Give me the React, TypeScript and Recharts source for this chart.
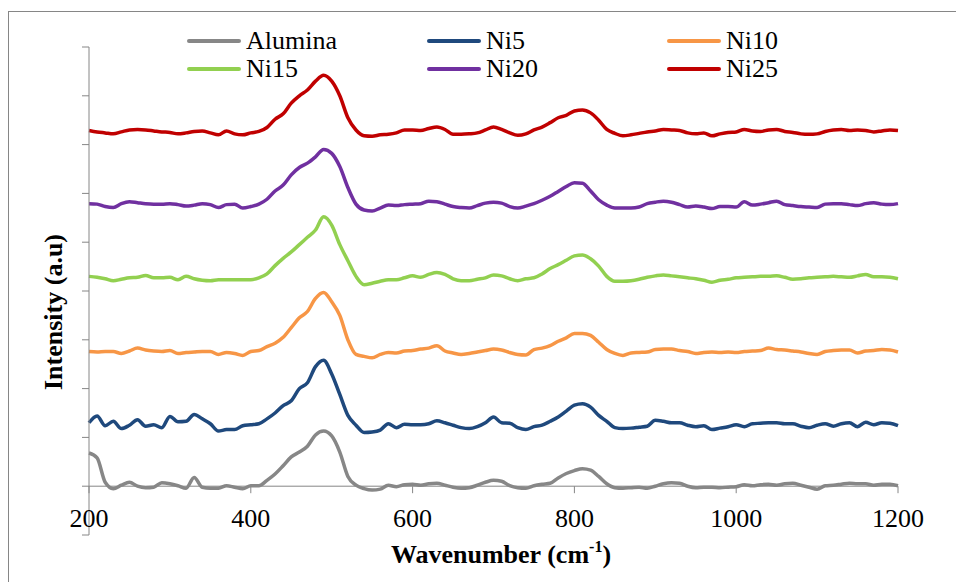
import { LineChart, Line, XAxis, YAxis, ReferenceLine, Legend } from 'recharts';

// Raman shift grid, 10 cm-1 steps
const wavenumbers = Array.from({ length: 101 }, (_, i) => 200 + i * 10);

const alumina = [
  0.68, 0.58, 0.08, -0.05, 0.02, 0.08, 0.0, -0.03, -0.02, 0.07,
  0.05, 0.01, -0.04, 0.18, -0.02, -0.04, -0.04, 0.01, -0.02, -0.05,
  0.01, 0.01, 0.12, 0.25, 0.42, 0.6, 0.7, 0.82, 1.05, 1.13,
  1.03, 0.7, 0.2, 0.02, -0.05, -0.08, -0.06, 0.02, -0.01, 0.03,
  0.04, 0.02, 0.05, 0.06, 0.02, -0.02, -0.04, -0.03, 0.02, 0.08,
  0.12, 0.1, 0.01, -0.03, -0.04, 0.01, 0.04, 0.06, 0.17, 0.26,
  0.32, 0.36, 0.33, 0.2, 0.05, -0.03, -0.04, -0.03, -0.02, -0.04,
  0.0, 0.05, 0.07, 0.06, 0.0, -0.03, -0.02, -0.02, -0.03, -0.02,
  -0.01, 0.03, 0.01, 0.03, 0.04, 0.02, 0.05, 0.06, 0.02, -0.02,
  -0.06, 0.01, 0.02, 0.04, 0.06, 0.05, 0.05, 0.02, 0.04, 0.04,
  0.01,
];

const ni5 = [
  1.3, 1.44, 1.24, 1.33, 1.18, 1.25, 1.36, 1.23, 1.26, 1.2,
  1.43, 1.32, 1.33, 1.47, 1.38, 1.28, 1.13, 1.16, 1.16, 1.24,
  1.26, 1.28, 1.38, 1.5, 1.65, 1.75, 2.0, 2.12, 2.45, 2.58,
  2.3, 1.88, 1.45, 1.25, 1.1, 1.11, 1.15, 1.28, 1.2, 1.27,
  1.26, 1.26, 1.28, 1.34, 1.3, 1.25, 1.2, 1.18, 1.22, 1.3,
  1.42, 1.3, 1.29, 1.2, 1.16, 1.22, 1.25, 1.33, 1.42, 1.54,
  1.66, 1.69, 1.62, 1.45, 1.33, 1.2, 1.18, 1.19, 1.21, 1.23,
  1.35, 1.33, 1.3, 1.3, 1.25, 1.22, 1.24, 1.16, 1.19, 1.22,
  1.26, 1.22, 1.28, 1.29, 1.3, 1.3, 1.28, 1.28, 1.23, 1.2,
  1.25, 1.28, 1.23, 1.28, 1.3, 1.22, 1.31, 1.26, 1.3, 1.29,
  1.24,
];

const ni10 = [
  2.76, 2.75, 2.76, 2.76, 2.72, 2.77, 2.83, 2.79, 2.77, 2.76,
  2.78, 2.72, 2.74, 2.75, 2.76, 2.76, 2.7, 2.74, 2.72, 2.68,
  2.76, 2.78, 2.86, 2.93, 3.05, 3.25, 3.45, 3.58, 3.85, 3.97,
  3.78, 3.5, 3.0, 2.7, 2.66, 2.63, 2.7, 2.74, 2.73, 2.77,
  2.78, 2.81, 2.83, 2.88, 2.77, 2.73, 2.7, 2.72, 2.75, 2.78,
  2.81, 2.79, 2.74, 2.7, 2.69, 2.8, 2.83, 2.88, 2.97, 3.04,
  3.13, 3.13, 3.09, 2.95, 2.8, 2.72, 2.68, 2.73, 2.74, 2.75,
  2.8, 2.81, 2.81, 2.78, 2.76, 2.72, 2.74, 2.75, 2.74, 2.75,
  2.74, 2.76, 2.77, 2.78, 2.83, 2.8, 2.79, 2.77, 2.75, 2.72,
  2.7, 2.76, 2.78, 2.79, 2.79, 2.73, 2.77, 2.78, 2.8, 2.79,
  2.75,
];

const ni15 = [
  4.3, 4.28, 4.25, 4.21, 4.24, 4.27, 4.28, 4.32, 4.27, 4.27,
  4.28, 4.23, 4.3, 4.25, 4.22, 4.21, 4.23, 4.23, 4.23, 4.23,
  4.23, 4.27, 4.35, 4.52, 4.67, 4.8, 4.95, 5.1, 5.25, 5.52,
  5.35, 4.95, 4.62, 4.3, 4.13, 4.16, 4.2, 4.23, 4.23, 4.27,
  4.31, 4.28, 4.34, 4.38, 4.34, 4.25, 4.21, 4.21, 4.24, 4.27,
  4.33, 4.31, 4.25, 4.21, 4.25, 4.27, 4.35, 4.46, 4.54, 4.63,
  4.72, 4.74, 4.66, 4.51, 4.3, 4.2, 4.2, 4.21, 4.24, 4.28,
  4.31, 4.33, 4.31, 4.29, 4.27, 4.25, 4.22, 4.18, 4.22, 4.24,
  4.27, 4.28, 4.29, 4.3, 4.3, 4.31, 4.28, 4.24, 4.25, 4.27,
  4.28, 4.29, 4.3, 4.29, 4.28, 4.31, 4.34, 4.29, 4.29, 4.28,
  4.25,
];

const ni20 = [
  5.79, 5.78, 5.73, 5.71, 5.79, 5.83, 5.81, 5.79, 5.78, 5.78,
  5.79, 5.77, 5.74, 5.76, 5.79, 5.77, 5.71, 5.77, 5.78, 5.7,
  5.73, 5.78, 5.88, 6.05, 6.17, 6.38, 6.53, 6.62, 6.75, 6.9,
  6.82, 6.55, 6.12, 5.78, 5.66, 5.64, 5.7, 5.76, 5.75, 5.77,
  5.78, 5.79, 5.84, 5.83, 5.78, 5.73, 5.71, 5.7, 5.75, 5.8,
  5.82, 5.8, 5.73, 5.7, 5.74, 5.79, 5.86, 5.94, 6.04, 6.14,
  6.22, 6.21, 6.05, 5.87, 5.76, 5.7, 5.7, 5.7, 5.72, 5.79,
  5.82, 5.84, 5.82, 5.77, 5.72, 5.74, 5.72, 5.69, 5.73, 5.73,
  5.72, 5.83, 5.76, 5.78, 5.81, 5.84, 5.77, 5.75, 5.73, 5.72,
  5.71, 5.78, 5.79, 5.79, 5.77, 5.75, 5.79, 5.81, 5.78, 5.77,
  5.79,
];

const ni25 = [
  7.29, 7.26, 7.24, 7.22, 7.26, 7.3, 7.31, 7.3, 7.28, 7.26,
  7.25, 7.22, 7.24, 7.27, 7.28, 7.24, 7.2, 7.28, 7.22, 7.2,
  7.24, 7.27, 7.35, 7.52, 7.63, 7.85, 8.0, 8.12, 8.3, 8.42,
  8.3, 8.0, 7.55, 7.3, 7.18, 7.17, 7.2, 7.21, 7.24, 7.3,
  7.3, 7.29, 7.33, 7.36, 7.31, 7.21, 7.21, 7.22, 7.24, 7.3,
  7.36, 7.31, 7.24, 7.19, 7.22, 7.3, 7.36, 7.45, 7.55, 7.6,
  7.69, 7.71, 7.65, 7.5, 7.31, 7.23, 7.18, 7.2, 7.23, 7.26,
  7.28, 7.31, 7.3, 7.29, 7.24, 7.22, 7.24, 7.18, 7.22, 7.25,
  7.26, 7.31, 7.28, 7.27, 7.3, 7.31, 7.27, 7.25, 7.22, 7.21,
  7.22, 7.27, 7.3, 7.31, 7.29, 7.3, 7.29, 7.26, 7.28, 7.3,
  7.29,
];

const xTicks = [200, 400, 600, 800, 1000, 1200];
const yTicks = [-1, 0, 1, 2, 3, 4, 5, 6, 7, 8, 9];

const series = [
  { key: 'Alumina', color: '#878787', values: alumina },
  { key: 'Ni5', color: '#1F497D', values: ni5 },
  { key: 'Ni10', color: '#F79646', values: ni10 },
  { key: 'Ni15', color: '#92D050', values: ni15 },
  { key: 'Ni20', color: '#7030A0', values: ni20 },
  { key: 'Ni25', color: '#C00000', values: ni25 },
];

const data = wavenumbers.map((w, i) => {
  const row: Record<string, number> = { w };
  series.forEach((s) => {
    row[s.key] = s.values[i];
  });
  return row;
});

const FONT = "'Liberation Serif', 'DejaVu Serif', serif";
const AXIS = '#868686';
const PLOT_H = 488;
const UNIT = PLOT_H / (yTicks.length - 1);

// x axis crosses at y = 0, one unit above the bottom of the plot
function XTick({ x, y, payload }: any) {
  const y0 = y - UNIT;
  return (
    <g>
      <line x1={x} x2={x} y1={y0} y2={y0 + 7} stroke={AXIS} />
      <text x={x} y={y0 + 41} textAnchor="middle" style={{ fontFamily: FONT, fontSize: 26 }} fill="#000">
        {payload.value}
      </text>
    </g>
  );
}

function LegendBox() {
  return (
    <div
      style={{
        display: 'grid',
        gridTemplateColumns: '240px 240px 240px',
        fontFamily: FONT,
        fontSize: 26,
        color: '#000',
      }}
    >
      {series.map((s) => (
        <div key={s.key} style={{ display: 'flex', alignItems: 'center', height: 28 }}>
          <span style={{ width: 54, height: 4, borderRadius: 2, background: s.color, display: 'inline-block' }} />
          <span style={{ marginLeft: 5, lineHeight: '28px' }}>{s.key}</span>
        </div>
      ))}
    </div>
  );
}

export default function App() {
  return (
    <div
      style={{
        position: 'absolute',
        left: 8,
        top: 11,
        width: 948,
        height: 571,
        borderLeft: `1px solid ${AXIS}`,
        borderTop: `1px solid ${AXIS}`,
        boxSizing: 'border-box',
        background: '#fff',
        fontFamily: FONT,
      }}
    >
      <LineChart width={947} height={570} data={data} margin={{ top: 35, right: 58, left: 0, bottom: 0 }}>
        <XAxis
          dataKey="w"
          type="number"
          domain={[200, 1200]}
          ticks={xTicks}
          axisLine={false}
          tickLine={false}
          tickSize={0}
          tickMargin={0}
          height={47}
          tick={<XTick />}
          interval={0}
        />
        <YAxis
          type="number"
          domain={[-1, 9]}
          ticks={yTicks}
          width={80}
          tickSize={7}
          tickFormatter={() => ''}
          axisLine={{ stroke: AXIS }}
          tickLine={{ stroke: AXIS }}
          interval={0}
          label={{
            content: () => (
              <text
                x={44}
                y={300}
                transform="rotate(-90 44 300)"
                textAnchor="middle"
                dominantBaseline="central"
                style={{ fontFamily: FONT, fontSize: 26, fontWeight: 'bold' }}
                fill="#000"
              >
                Intensity (a.u)
              </text>
            ),
          }}
        />
        <ReferenceLine y={0} stroke={AXIS} />
        <Legend
          layout="horizontal"
          verticalAlign="middle"
          align="center"
          content={() => <LegendBox />}
          wrapperStyle={{ top: 15, left: 178, width: 720 }}
        />
        {series.map((s) => (
          <Line
            key={s.key}
            dataKey={s.key}
            type="monotone"
            stroke={s.color}
            strokeWidth={3.5}
            dot={false}
            isAnimationActive={false}
          />
        ))}
        <text
          x={492}
          y={551}
          textAnchor="middle"
          style={{ fontFamily: FONT, fontSize: 26, fontWeight: 'bold' }}
          fill="#000"
        >
          Wavenumber (cm
          <tspan fontSize={16} dy={-11}>-1</tspan>
          <tspan dy={11}>)</tspan>
        </text>
      </LineChart>
    </div>
  );
}
